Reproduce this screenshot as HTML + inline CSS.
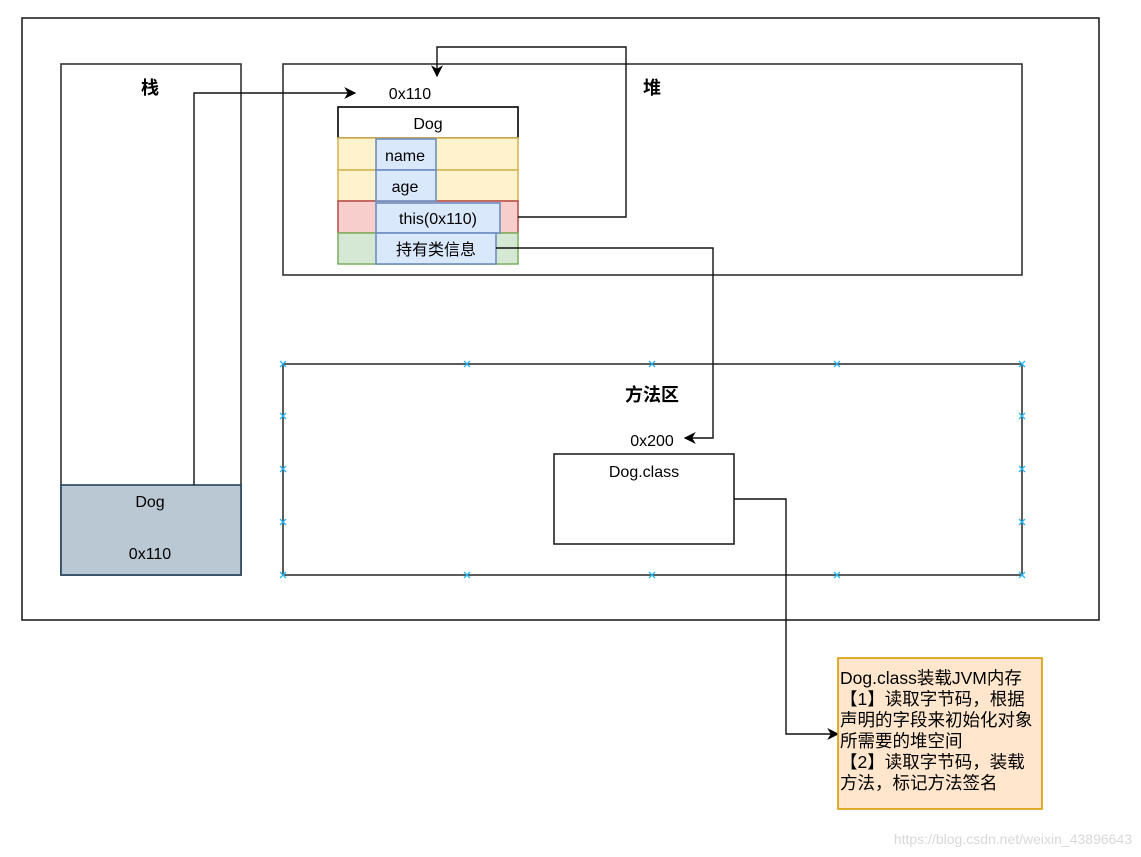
<!DOCTYPE html>
<html><head><meta charset="utf-8"><style>
html,body{margin:0;padding:0;background:#fff;}
svg{display:block;}
text{font-family:"Liberation Sans","Noto Sans CJK SC",sans-serif;}
</style></head><body>
<svg width="1141" height="857" viewBox="0 0 1141 857" xmlns="http://www.w3.org/2000/svg">
<defs>
<marker id="a" viewBox="0 0 10 10" refX="9" refY="5" markerWidth="12" markerHeight="12" markerUnits="userSpaceOnUse" orient="auto">
<path d="M0,0 L10,5 L0,10 L3,5 Z" fill="#000"/>
</marker>
</defs>
<rect width="1141" height="857" fill="#fff"/>
<rect x="22" y="18" width="1077" height="602" fill="none" stroke="#222" stroke-width="1.6"/>
<rect x="61" y="64" width="180" height="511" fill="#fff" stroke="#333" stroke-width="1.6"/>
<text x="150" y="94" font-size="18" font-weight="bold" text-anchor="middle">栈</text>
<rect x="61" y="485" width="180" height="90" fill="#bac8d3" stroke="#23445d" stroke-width="1.6"/>
<text x="150" y="507" font-size="16" text-anchor="middle">Dog</text>
<text x="150" y="559" font-size="16" text-anchor="middle">0x110</text>
<rect x="283" y="64" width="739" height="211" fill="none" stroke="#333" stroke-width="1.6"/>
<text x="652" y="94" font-size="18" font-weight="bold" text-anchor="middle">堆</text>
<text x="410" y="99" font-size="16" text-anchor="middle">0x110</text>
<rect x="338" y="107" width="180" height="31" fill="#fff" stroke="#000" stroke-width="1.6"/>
<text x="428" y="129" font-size="16" text-anchor="middle">Dog</text>
<rect x="338" y="138" width="180" height="32" fill="#fff2cc" stroke="#d6b656" stroke-width="1.6"/>
<rect x="338" y="170" width="180" height="31" fill="#fff2cc" stroke="#d6b656" stroke-width="1.6"/>
<rect x="338" y="201" width="180" height="32" fill="#f8cecc" stroke="#b85450" stroke-width="1.6"/>
<rect x="338" y="233" width="180" height="31" fill="#d5e8d4" stroke="#82b366" stroke-width="1.6"/>
<rect x="376" y="139" width="60" height="31" fill="#dae8fc" stroke="#6c8ebf" stroke-width="1.6"/>
<text x="405" y="161" font-size="16" text-anchor="middle">name</text>
<rect x="376" y="170" width="60" height="31" fill="#dae8fc" stroke="#6c8ebf" stroke-width="1.6"/>
<text x="405" y="192" font-size="16" text-anchor="middle">age</text>
<rect x="376" y="203" width="124" height="30" fill="#dae8fc" stroke="#6c8ebf" stroke-width="1.6"/>
<text x="438" y="224" font-size="16" text-anchor="middle">this(0x110)</text>
<rect x="376" y="233" width="120" height="31" fill="#dae8fc" stroke="#6c8ebf" stroke-width="1.6"/>
<text x="436" y="255" font-size="16" text-anchor="middle">持有类信息</text>
<rect x="283" y="364" width="739" height="211" fill="none" stroke="#333" stroke-width="1.6"/>
<g stroke="#29b6f2" stroke-width="1.3">
<path d="M280,361l6,6M286,361l-6,6 M464,361l6,6M470,361l-6,6 M649,361l6,6M655,361l-6,6 M834,361l6,6M840,361l-6,6 M1019,361l6,6M1025,361l-6,6
M280,572l6,6M286,572l-6,6 M464,572l6,6M470,572l-6,6 M649,572l6,6M655,572l-6,6 M834,572l6,6M840,572l-6,6 M1019,572l6,6M1025,572l-6,6
M280,413l6,6M286,413l-6,6 M280,466l6,6M286,466l-6,6 M280,519l6,6M286,519l-6,6
M1019,413l6,6M1025,413l-6,6 M1019,466l6,6M1025,466l-6,6 M1019,519l6,6M1025,519l-6,6"/>
</g>
<text x="652" y="401" font-size="18" font-weight="bold" text-anchor="middle">方法区</text>
<text x="652" y="446" font-size="16" text-anchor="middle">0x200</text>
<rect x="554" y="454" width="180" height="90" fill="#fff" stroke="#222" stroke-width="1.6"/>
<text x="644" y="477" font-size="16" text-anchor="middle">Dog.class</text>
<g fill="none" stroke="#111" stroke-width="1.4">
<path d="M194,485 V93 H355" marker-end="url(#a)"/>
<path d="M518,217 H626 V47 H437 V76" marker-end="url(#a)"/>
<path d="M496,248 H713 V438 H685" marker-end="url(#a)"/>
<path d="M734,499 H786 V734 H838" marker-end="url(#a)"/>
</g>
<rect x="838" y="658" width="204" height="151" fill="#ffe6cc" stroke="#d79b00" stroke-width="1.6"/>
<g font-size="17.5" fill="#000">
<text x="840" y="684">Dog.class装载JVM内存</text>
<text x="840" y="705">【1】读取字节码，根据</text>
<text x="840" y="726">声明的字段来初始化对象</text>
<text x="840" y="747">所需要的堆空间</text>
<text x="840" y="768">【2】读取字节码，装载</text>
<text x="840" y="789">方法，标记方法签名</text>
</g>
<text x="1132" y="844" font-size="14" fill="#d8d8d8" text-anchor="end">https://blog.csdn.net/weixin_43896643</text>
</svg>
</body></html>
